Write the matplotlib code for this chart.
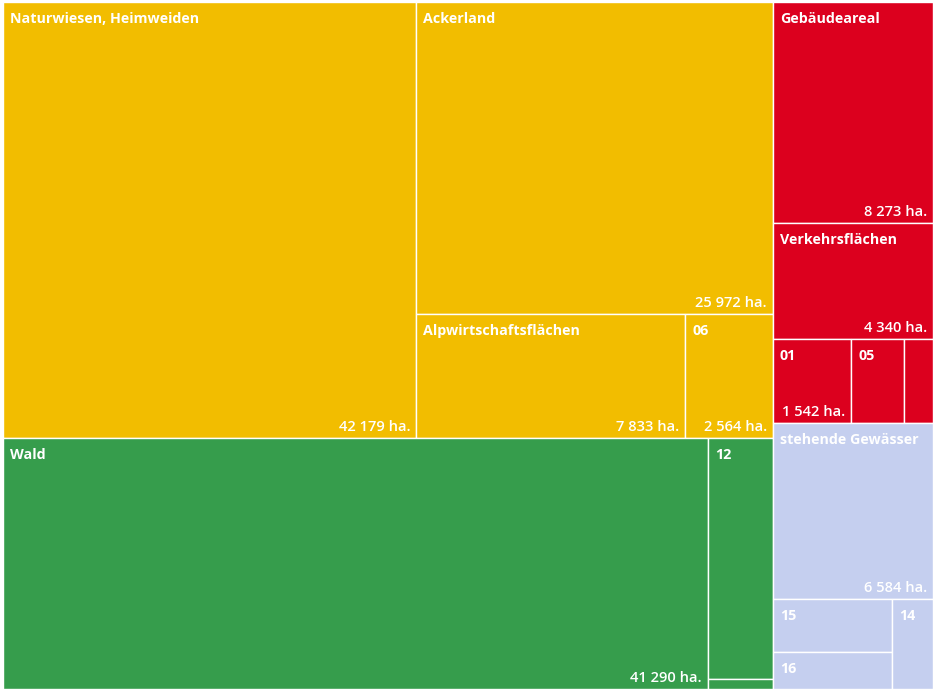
import matplotlib
matplotlib.use("Agg")
import matplotlib.pyplot as plt
from matplotlib.patches import Rectangle

# groups (Arealstatistik), values in ha
group_colors = ["#F2BD00", "#369D4C", "#DC001E", "#C5CFEF"]

yellow_labels = ["Naturwiesen, Heimweiden", "Ackerland", "Alpwirtschaftsflächen", "06"]
yellow_values = [42179, 25972, 7833, 2564]

green_labels = ["Wald", "12", ""]
green_values = [41290, 3665, 145]

red_labels = ["Gebäudeareal", "Verkehrsflächen", "01", "05", ""]
red_values = [8273, 4340, 1542, 1040, 565]

blue_labels = ["stehende Gewässer", "15", "16", "14"]
blue_values = [6584, 1464, 1024, 866]

PHI = (1 + 5 ** 0.5) / 2
W, H = 930, 687


def squarify(values, x0, y0, x1, y1):
    # same idea as d3.treemapSquarify (golden ratio)
    rects = [None] * len(values)
    total = float(sum(values))
    n = len(values)
    i0 = 0
    while i0 < n:
        dx, dy = x1 - x0, y1 - y0
        s = values[i0]
        vmin = vmax = s
        alpha = max(dy / dx, dx / dy) / (total * PHI)
        beta = s * s * alpha
        best = max(vmax / beta, beta / vmin)
        i1 = i0 + 1
        while i1 < n:
            v = values[i1]
            s2 = s + v
            mn, mx = min(vmin, v), max(vmax, v)
            beta = s2 * s2 * alpha
            r = max(mx / beta, beta / mn)
            if r > best:
                break
            s, vmin, vmax, best = s2, mn, mx, r
            i1 += 1
        if dx < dy:
            yb = y0 + dy * s / total
            x = x0
            for i in range(i0, i1):
                w = dx * values[i] / s
                rects[i] = (x, y0, w, yb - y0)
                x += w
            y0 = yb
        else:
            xb = x0 + dx * s / total
            y = y0
            for i in range(i0, i1):
                h = dy * values[i] / s
                rects[i] = (x0, y, xb - x0, h)
                y += h
            x0 = xb
        total -= s
        i0 = i1
    return rects


def fmt(v):
    return f"{v:,}".replace(",", " ") + " ha."


def main():
    groups = [
        (yellow_labels, yellow_values, group_colors[0]),
        (green_labels, green_values, group_colors[1]),
        (red_labels, red_values, group_colors[2]),
        (blue_labels, blue_values, group_colors[3]),
    ]
    groups.sort(key=lambda g: -sum(g[1]))

    fig = plt.figure(figsize=(9.36, 6.92), dpi=100)
    ax = fig.add_axes([3 / 936, (692 - 2 - H) / 692, W / 936, H / 692])
    ax.set_xlim(0, W)
    ax.set_ylim(H, 0)
    ax.axis("off")

    outer = squarify([sum(g[1]) for g in groups], 0, 0, W, H)
    for (labels, values, color), (gx, gy, gw, gh) in zip(groups, outer):
        order = sorted(range(len(values)), key=lambda i: -values[i])
        vals = [values[i] for i in order]
        rects = squarify(vals, gx, gy, gx + gw, gy + gh)
        for i, (x, y, w, h) in zip(order, rects):
            ax.add_patch(Rectangle((x, y), w, h, facecolor=color,
                                   edgecolor="white", linewidth=1.0))
            if labels[i]:
                ax.text(x + 7, y + 21, labels[i], color="white",
                        fontsize=10.3, fontweight="bold", family="Open Sans",
                        va="baseline", ha="left")
            if w >= 75 and h >= 60:
                ax.text(x + w - 6, y + h - 7, fmt(values[i]), color="white",
                        fontsize=10.6, fontweight="semibold",
                        family="Open Sans", va="baseline", ha="right")

    fig.savefig("out.png", dpi=100, facecolor="white")


if __name__ == "__main__":
    main()
